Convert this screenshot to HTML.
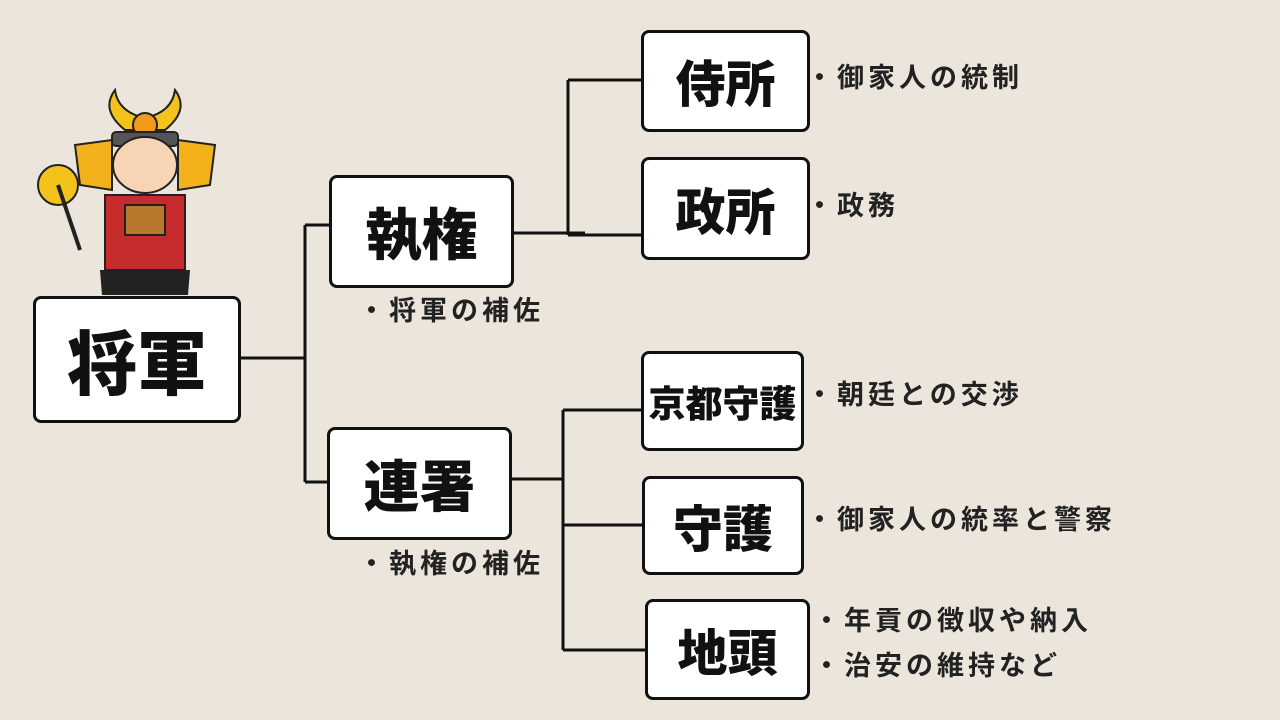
<!DOCTYPE html>
<html><head><meta charset="utf-8"><style>
body{margin:0;width:1280px;height:720px;background:#ebe5dc;position:relative;overflow:hidden;font-family:"Liberation Sans","Noto Sans CJK JP",sans-serif;}
.b{position:absolute;background:#fff;border:3px solid #111;border-radius:8px;box-sizing:border-box;display:flex;align-items:center;justify-content:center;font-weight:900;color:#111;white-space:nowrap;}
.t{position:absolute;font-size:27px;font-weight:700;color:#222;white-space:nowrap;line-height:1;letter-spacing:4px;}
svg{position:absolute;left:0;top:0}
</style></head><body>
<svg width="1280" height="720">
<g stroke="#111" stroke-width="3" fill="none">
<path d="M241 358 H305 M305 225 V482 M305 225 H329 M305 482 H327"/>
<path d="M514 233 H585 M568 80 V235 M568 80 H641 M568 235 H641"/>
<path d="M512 479 H563 M563 410 V650 M563 410 H641 M563 525 H642 M563 650 H645"/>
</g>
<g>
<path d="M115 90 Q100 110 125 130 L165 130 Q190 110 175 90 Q172 112 145 118 Q118 112 115 90Z" fill="#f3c21b" stroke="#222" stroke-width="2"/>
<circle cx="145" cy="125" r="12" fill="#f39a1a" stroke="#222" stroke-width="2"/>
<rect x="112" y="132" width="66" height="14" rx="4" fill="#555" stroke="#222" stroke-width="2"/>
<path d="M75 145 L112 140 L112 190 L80 185Z" fill="#f3b21b" stroke="#222" stroke-width="2"/>
<path d="M215 145 L178 140 L178 190 L210 185Z" fill="#f3b21b" stroke="#222" stroke-width="2"/>
<ellipse cx="145" cy="165" rx="32" ry="28" fill="#f7d4b4" stroke="#222" stroke-width="2"/>
<path d="M105 195 H185 V270 H105Z" fill="#c72c2c" stroke="#222" stroke-width="2"/>
<rect x="125" y="205" width="40" height="30" fill="#b9772e" stroke="#222" stroke-width="2"/>
<path d="M100 270 H190 L188 295 H102Z" fill="#222"/>
<circle cx="58" cy="185" r="20" fill="#f3c21b" stroke="#222" stroke-width="2"/>
<line x1="58" y1="185" x2="80" y2="250" stroke="#222" stroke-width="4"/>
</g>
</svg>
<div class="b" style="left:33px;top:296px;width:208px;height:127px;font-size:70px">将軍</div>
<div class="b" style="left:329px;top:175px;width:185px;height:113px;font-size:56px">執権</div>
<div class="b" style="left:327px;top:427px;width:185px;height:113px;font-size:56px">連署</div>
<div class="b" style="left:641px;top:30px;width:169px;height:102px;font-size:50px">侍所</div>
<div class="b" style="left:641px;top:157px;width:169px;height:103px;font-size:50px">政所</div>
<div class="b" style="left:641px;top:351px;width:163px;height:100px;font-size:37px">京都守護</div>
<div class="b" style="left:642px;top:476px;width:162px;height:99px;font-size:50px">守護</div>
<div class="b" style="left:645px;top:599px;width:165px;height:101px;font-size:50px">地頭</div>
<div class="t" style="left:358px;top:298px">・将軍の補佐</div>
<div class="t" style="left:358px;top:551px">・執権の補佐</div>
<div class="t" style="left:806px;top:65px">・御家人の統制</div>
<div class="t" style="left:806px;top:193px">・政務</div>
<div class="t" style="left:806px;top:382px">・朝廷との交渉</div>
<div class="t" style="left:806px;top:507px">・御家人の統率と警察</div>
<div class="t" style="left:813px;top:608px">・年貢の徴収や納入</div>
<div class="t" style="left:813px;top:653px">・治安の維持など</div>
</body></html>
